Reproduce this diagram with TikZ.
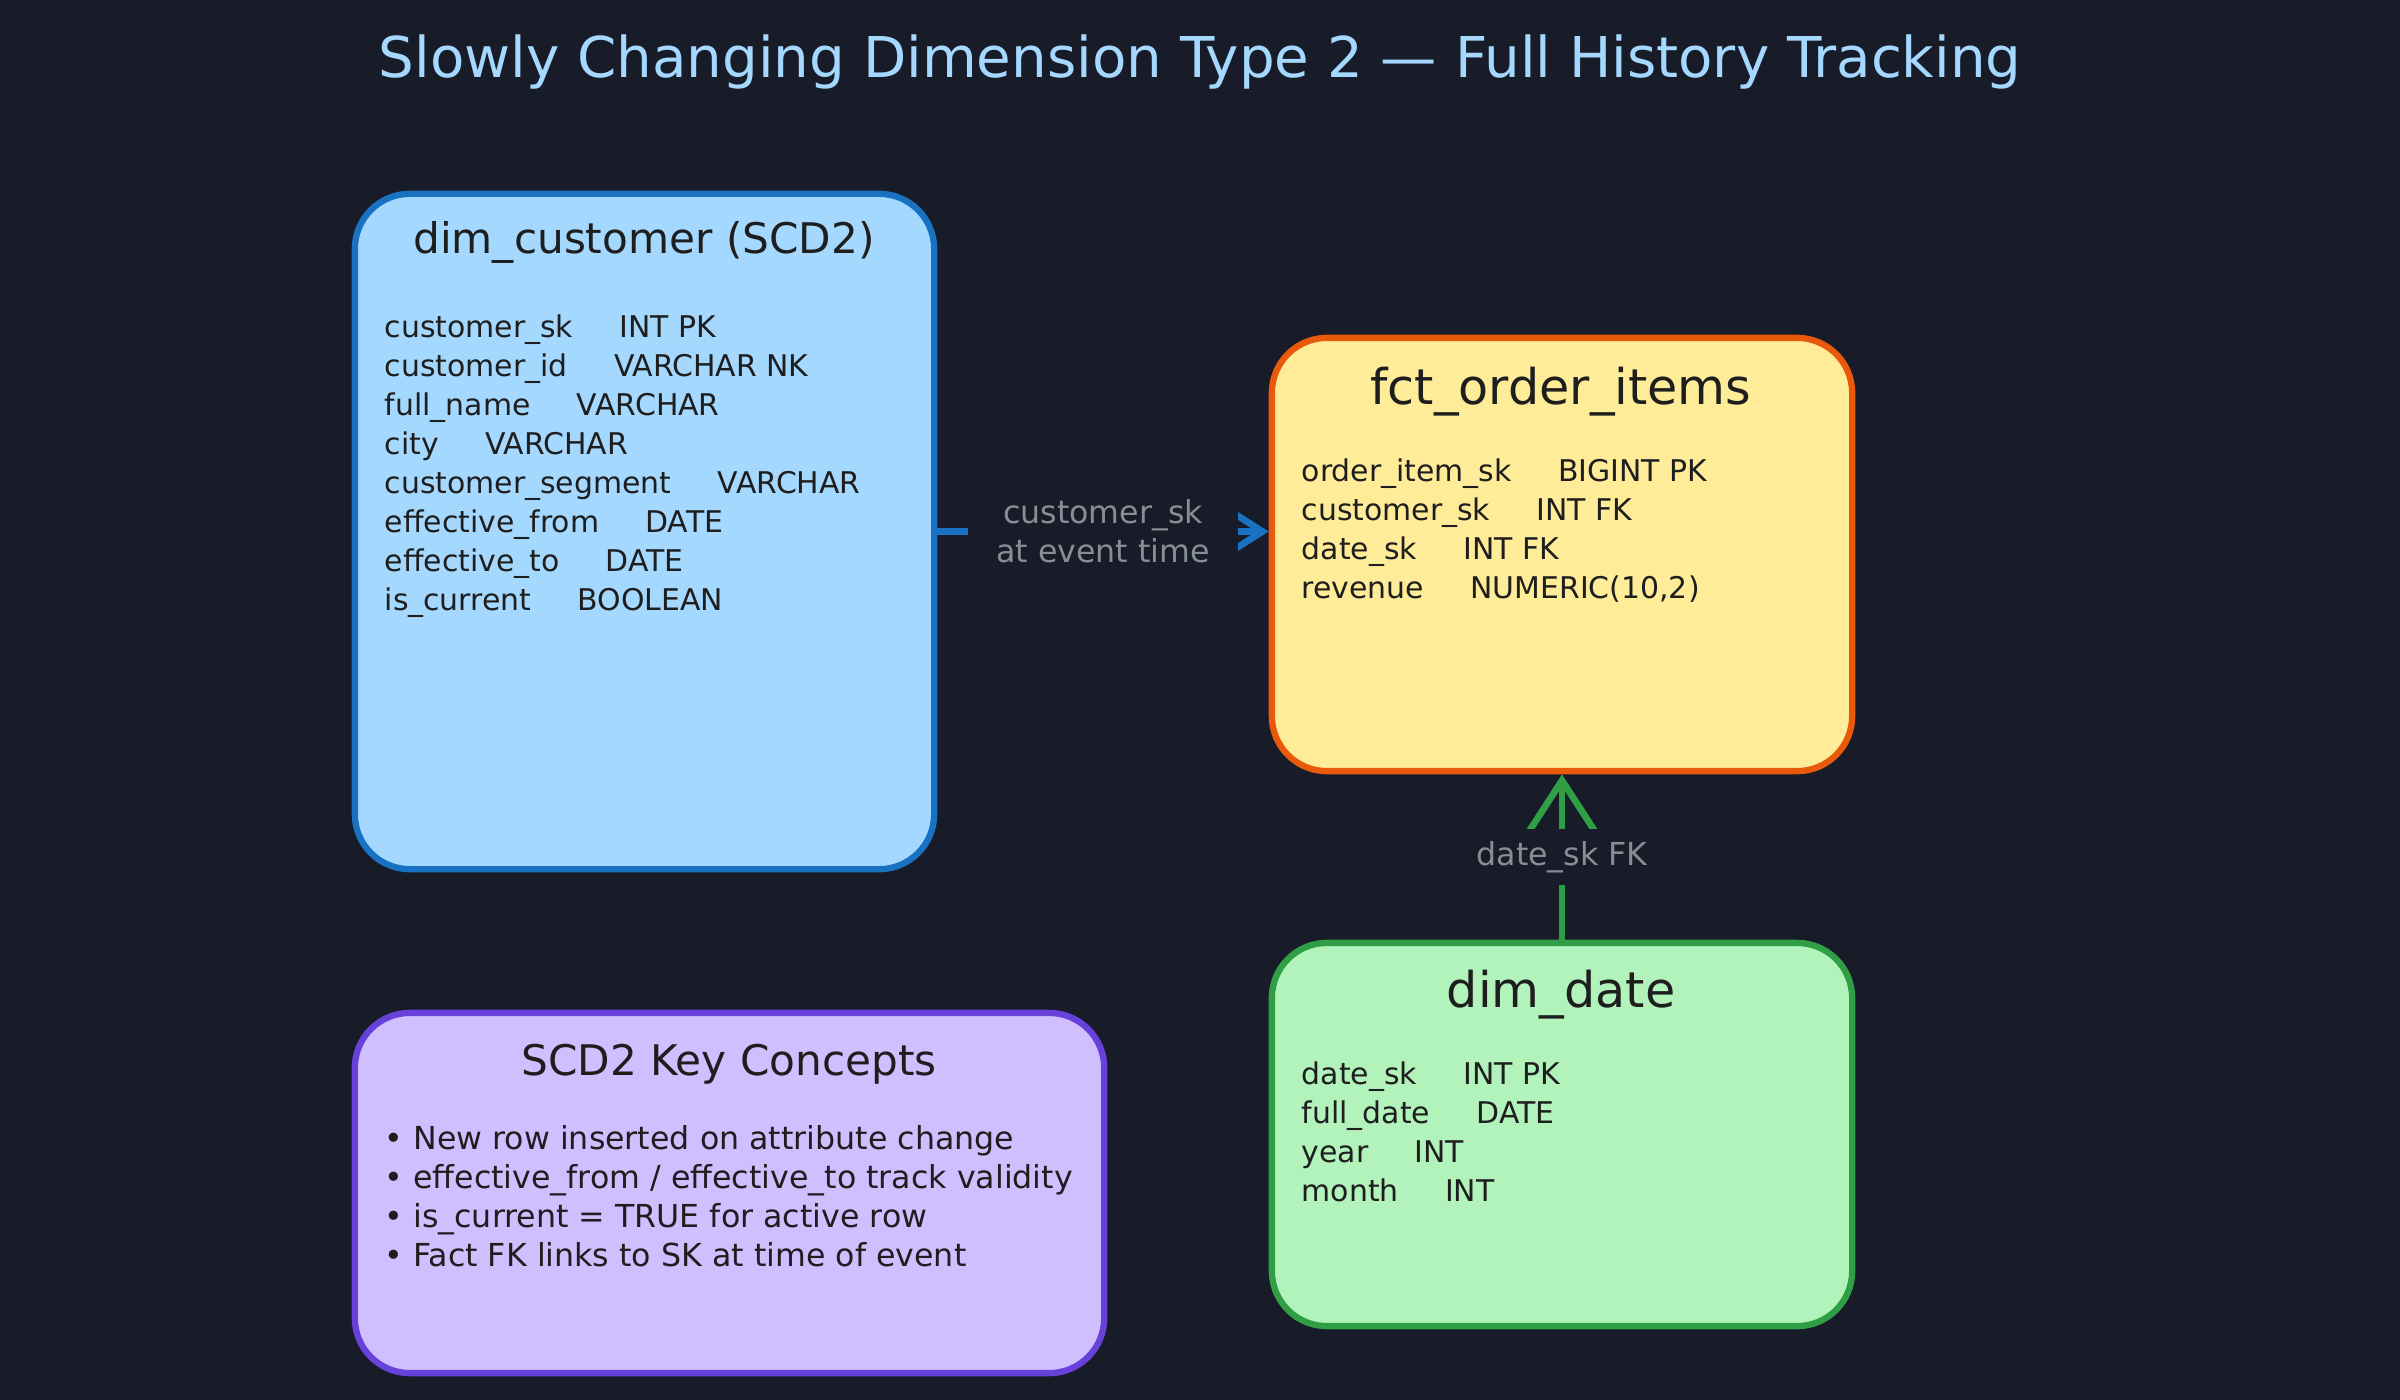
\documentclass[tikz,border=0pt]{standalone}
\usepackage{fontspec}
\setmainfont{DejaVu Sans}
\usetikzlibrary{arrows.meta,positioning}

\definecolor{fondo}{HTML}{181B28}
\definecolor{tinta}{HTML}{1E1E1E}
\definecolor{gris}{HTML}{868E96}
\definecolor{azulF}{HTML}{A5D8FF}
\definecolor{azulB}{HTML}{1971C2}
\definecolor{amarF}{HTML}{FFEC99}
\definecolor{naranB}{HTML}{E8590C}
\definecolor{verdeF}{HTML}{B2F2BB}
\definecolor{verdeB}{HTML}{2F9E44}
\definecolor{lilaF}{HTML}{D0BFFF}
\definecolor{lilaB}{HTML}{6741D9}

\newcommand{\colgap}{\hspace{1.55em}}

\begin{document}
\begin{tikzpicture}
  [x=0.01cm, y=-0.01cm,
   tabla/.style={rounded corners=0.55cm, line width=1.8pt, inner sep=0pt},
   titulo/.style={text=tinta, font=\fontsize{12}{14}\selectfont},
   campos/.style={anchor=north west, align=left, inner sep=0pt, text=tinta,
                  font=\fontsize{8.5}{11.1}\selectfont},
   etiqueta/.style={fill=fondo, text=gris, align=center, inner xsep=0.28cm, inner ysep=0.15cm,
                    font=\fontsize{9}{11}\selectfont},
   enlace/.style={line width=1.9pt}]

  % Fondo
  \fill[fondo] (0,0) rectangle (2400,1400);
  \useasboundingbox (0,0) rectangle (2400,1400);

  \node[text=azulF, font=\fontsize{16}{19}\selectfont] (tit) at (1200,62)
    {Slowly Changing Dimension Type 2 — Full History Tracking};

  % Tablas
  \node[tabla, draw=azulB, fill=azulF, minimum width=5.79cm, minimum height=6.75cm] (cust) at (644.5,531.5) {};
  \node[titulo] (custT) at (644,242) {dim\_customer (SCD2)};
  \node[campos] (custC) at (384,314) {customer\_sk\colgap INT PK\\
    customer\_id\colgap VARCHAR NK\\
    full\_name\colgap VARCHAR\\
    city\colgap VARCHAR\\
    customer\_segment\colgap VARCHAR\\
    effective\_from\colgap DATE\\
    effective\_to\colgap DATE\\
    is\_current\colgap BOOLEAN};

  \node[tabla, draw=naranB, fill=amarF, minimum width=5.8cm, minimum height=4.33cm] (fct) at (1562,554.5) {};
  \node[titulo, font=\fontsize{14}{16}\selectfont] (fctT) at (1561,392) {fct\_order\_items};
  \node[campos] (fctC) at (1301,458) {order\_item\_sk\colgap BIGINT PK\\
    customer\_sk\colgap INT FK\\
    date\_sk\colgap INT FK\\
    revenue\colgap NUMERIC(10,2)};

  \node[tabla, draw=verdeB, fill=verdeF, minimum width=5.8cm, minimum height=3.83cm] (date) at (1562,1134.5) {};
  \node[titulo, font=\fontsize{14}{16}\selectfont] (dateT) at (1561,995) {dim\_date};
  \node[campos] (dateC) at (1301,1061) {date\_sk\colgap INT PK\\
    full\_date\colgap DATE\\
    year\colgap INT\\
    month\colgap INT};

  \node[tabla, draw=lilaB, fill=lilaF, minimum width=7.49cm, minimum height=3.6cm] (nota) at (729.5,1193) {};
  \node[titulo] (notaT) at (729,1064) {SCD2 Key Concepts};
  \node[campos, font=\fontsize{9}{11.1}\selectfont] (notaC) at (384,1125) {• New row inserted on attribute change\\
    • effective\_from / effective\_to track validity\\
    • is\_current = TRUE for active row\\
    • Fact FK links to SK at time of event};

  % Conexiones
  \draw[enlace, draw=azulB, -{Straight Barb[length=11pt, width=14pt, line width=1.9pt]}]
    (cust.east) -- node[etiqueta] {customer\_sk\\at event time} (cust.east -| fct.west);
  \draw[enlace, draw=verdeB, -{Straight Barb[length=17pt, width=22pt, line width=1.9pt]}]
    (date.north) -- node[etiqueta, inner ysep=0.12cm] {date\_sk FK} (fct.south);
\end{tikzpicture}
\end{document}
